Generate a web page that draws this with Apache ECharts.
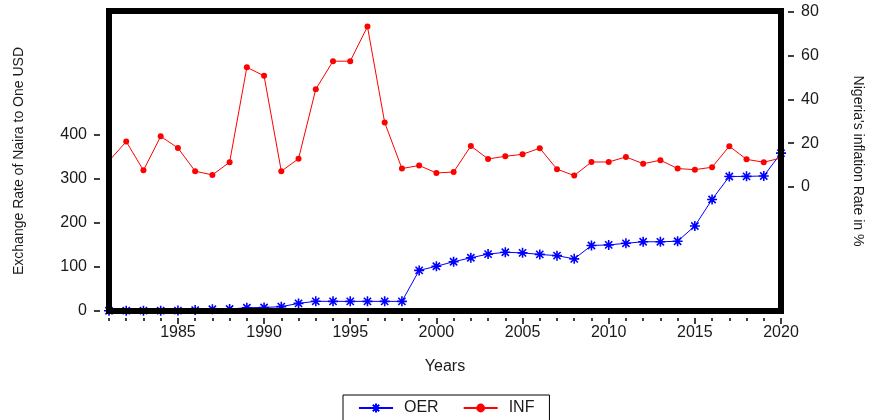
<!DOCTYPE html>
<html>
<head>
<meta charset="utf-8">
<style>
  html, body { margin: 0; padding: 0; background: #fff; }
  #chart { width: 873px; height: 420px; }
</style>
<script src="https://cdn.jsdelivr.net/npm/echarts@6/dist/echarts.min.js"></script>
</head>
<body>
<div id="chart"></div>
<script>
// years on the x axis
const years = []
for (let y = 1981; y <= 2020; y++) years.push(String(y))

// Official exchange rate, naira per USD (left axis)
const oer = [
  0.61, 0.67, 0.72, 0.77, 0.89, 2.02, 4.02, 4.54, 7.39, 8.04,
  9.91, 17.3, 22.05, 21.89, 21.89, 21.89, 21.89, 21.89, 92.34, 101.7,
  111.94, 120.97, 129.36, 133.5, 132.15, 128.65, 125.81, 118.55, 148.88, 150.3,
  153.86, 157.5, 157.31, 158.55, 193.28, 253.49, 305.79, 306.08, 306.92, 358.81
]

// Inflation rate in % (right axis)
const inf = [
  11.9, 20.7, 7.6, 23.1, 17.8, 7.2, 5.5, 11.3, 54.6, 50.7,
  7.2, 12.9, 44.6, 57.4, 57.4, 73.2, 29.4, 8.4, 9.8, 6.4,
  6.8, 18.7, 12.8, 14.0, 14.9, 17.7, 8.1, 5.2, 11.4, 11.4,
  13.7, 10.6, 12.2, 8.4, 7.9, 9.0, 18.6, 12.6, 11.3, 13.2
]

const leftTicks = [0, 100, 200, 300, 400]
const rightTicks = [0, 20, 40, 60, 80]

const font = "Liberation Sans, Arial, sans-serif"
const textColor = "#1a1a1a"

// asterisk marker
const starPath = "path://M0,-5L0,5M-5,0L5,0M-3.6,-3.6L3.6,3.6M-3.6,3.6L3.6,-3.6"

const chart = echarts.init(document.getElementById("chart"), null, { renderer: "canvas" })

chart.setOption({
  backgroundColor: "#fff",
  animation: false,
  textStyle: { fontFamily: font },

  // thick black frame round the plot, drawn above the lines
  grid: {
    left: 109,
    right: 90,
    top: 11,
    height: 300,
    show: true,
    z: 5,
    borderColor: "#000",
    borderWidth: 6,
    backgroundColor: "transparent"
  },

  legend: {
    left: 343,
    top: 395,
    padding: [5, 15, 5, 15],
    borderColor: "#000",
    borderWidth: 1,
    itemWidth: 34,
    itemHeight: 11,
    itemGap: 24,
    textStyle: { fontSize: 16, color: textColor, fontFamily: font, padding: [0, 0, 0, 6] },
    data: ["OER", "INF"]
  },

  xAxis: [
    {
      type: "category",
      data: years,
      boundaryGap: false,
      position: "bottom",
      offset: 7,
      name: "Years",
      nameLocation: "middle",
      nameGap: 41,
      nameTextStyle: { fontSize: 16, color: textColor, fontFamily: font },
      axisLine: { show: false, onZero: false },
      axisTick: { show: true, interval: 0, length: 3, lineStyle: { color: "#000", width: 1.5 } },
      axisLabel: {
        interval: (i, v) => Number(v) % 5 === 0,
        margin: 7,
        fontSize: 16,
        color: textColor,
        fontFamily: font
      },
      splitLine: { show: false }
    },
    {
      // longer ticks at every fifth year
      type: "category",
      data: years,
      boundaryGap: false,
      position: "bottom",
      offset: 7,
      axisLine: { show: false, onZero: false },
      axisTick: { show: true, interval: (i, v) => Number(v) % 5 === 0, length: 6, lineStyle: { color: "#000", width: 1.5 } },
      axisLabel: { show: false },
      splitLine: { show: false }
    }
  ],

  yAxis: [
    {
      type: "value",
      min: 0,
      max: 682,
      position: "left",
      offset: 9,
      name: "Exchange Rate of Naira to One USD",
      nameLocation: "middle",
      nameGap: 74,
      nameTextStyle: { fontSize: 14, color: textColor, fontFamily: font },
      axisLine: { show: false, onZero: false },
      axisTick: { show: true, length: 6, customValues: leftTicks, lineStyle: { color: "#000", width: 1.5 } },
      axisLabel: { customValues: leftTicks, margin: 13, fontSize: 16, color: textColor, fontFamily: font },
      splitLine: { show: false }
    },
    {
      type: "value",
      min: -56.6,
      max: 80.3,
      position: "right",
      offset: 7,
      name: "Nigeria's inflation Rate in %",
      nameLocation: "middle",
      nameRotate: -90,
      nameGap: 63,
      nameTextStyle: { fontSize: 14, color: textColor, fontFamily: font },
      axisLine: { show: false, onZero: false },
      axisTick: { show: true, length: 6, customValues: rightTicks, lineStyle: { color: "#000", width: 1.5 } },
      axisLabel: { customValues: rightTicks, margin: 13, fontSize: 16, color: textColor, fontFamily: font },
      splitLine: { show: false }
    }
  ],

  series: [
    {
      name: "OER",
      type: "line",
      z: 1,
      xAxisIndex: 0,
      yAxisIndex: 0,
      data: oer,
      symbol: starPath,
      symbolSize: 10,
      showAllSymbol: true,
      lineStyle: { color: "#0000ff", width: 1 },
      itemStyle: { color: "#0000ff", borderColor: "#0000ff", borderWidth: 1.6 }
    },
    {
      name: "INF",
      type: "line",
      z: 1,
      xAxisIndex: 0,
      yAxisIndex: 1,
      data: inf,
      symbol: "circle",
      symbolSize: 6,
      showAllSymbol: true,
      lineStyle: { color: "#ff0000", width: 1 },
      itemStyle: { color: "#ff0000" }
    }
  ]
})
</script>
</body>
</html>
